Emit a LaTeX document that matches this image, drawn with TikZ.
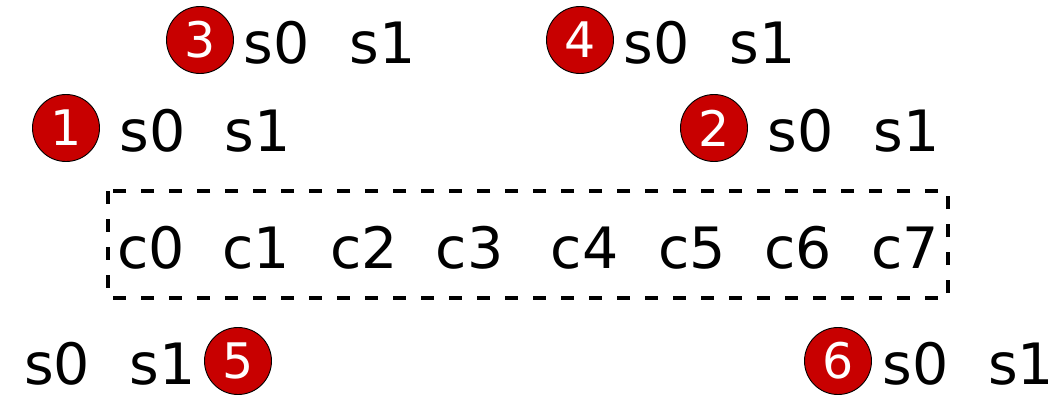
\documentclass[tikz,border=0pt]{standalone}
\usepackage{fontspec}
\setmainfont{DejaVu Sans}
\definecolor{badgered}{HTML}{C80000}
\newcommand{\badgedigit}[1]{\raisebox{-3pt}{#1}}
\begin{document}
\begin{tikzpicture}[x=1pt,y=-1pt,
  lbl/.style={inner sep=0pt, anchor=base, font=\fontsize{57}{60}\selectfont},
  badge/.style={circle, draw=black, line width=0.9pt, fill=badgered, minimum size=67pt, inner sep=0pt,
    text=white, font=\fontsize{49}{50}\selectfont},
  dashbox/.style={draw=black, line width=3.8pt, dash pattern=on 13pt off 15pt}]
\useasboundingbox (0,0) rectangle (1059,407);
% badges
\node[badge] (b1) at (66,128) {\badgedigit{1}};
\node[badge] (b2) at (714,128) {\badgedigit{2}};
\node[badge] (b3) at (200,40) {\badgedigit{3}};
\node[badge] (b4) at (580,40) {\badgedigit{4}};
\node[badge] (b5) at (238,361) {\badgedigit{5}};
\node[badge] (b6) at (838,361) {\badgedigit{6}};
% s labels
\node[lbl] (r3a) at (276.5,63) {s0};
\node[lbl] (r3b) at (382.5,63) {s1};
\node[lbl] (r4a) at (656.5,63) {s0};
\node[lbl] (r4b) at (762.5,63) {s1};
\node[lbl] (r1a) at (152.5,151) {s0};
\node[lbl] (r1b) at (257.5,151) {s1};
\node[lbl] (r2a) at (800.5,151) {s0};
\node[lbl] (r2b) at (906.5,151) {s1};
\node[lbl] (r5a) at (57,384) {s0};
\node[lbl] (r5b) at (162.5,384) {s1};
\node[lbl] (r6a) at (915.5,384) {s0};
\node[lbl] (r6b) at (1021,384) {s1};
% c labels
\node[lbl] (c0) at (151,268) {c0};
\node[lbl] (c1) at (256,268) {c1};
\node[lbl] (c2) at (364,268) {c2};
\node[lbl] (c3) at (469.5,268) {c3};
\node[lbl] (c4) at (584.5,268) {c4};
\node[lbl] (c5) at (692,268) {c5};
\node[lbl] (c6) at (798,268) {c6};
\node[lbl] (c7) at (905,268) {c7};
% dashed box
\draw[dashbox] (108,191) rectangle (948,298);
\end{tikzpicture}
\end{document}
